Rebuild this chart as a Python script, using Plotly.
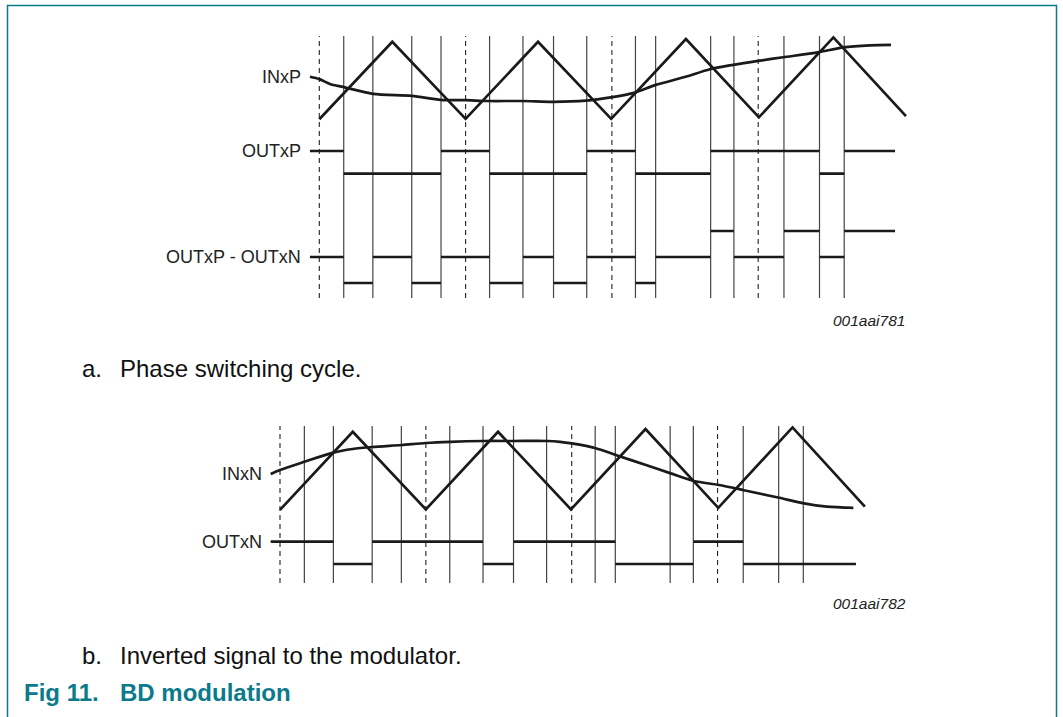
import plotly.graph_objects as go

W, H = 1063, 717          # browser window / figure size

# ---------------- data (time in carrier periods) ----------------
# switching instants (solid vertical lines), shared by both panels
switch_t = [0.167, 0.366, 0.632, 0.832, 1.164, 1.392, 1.601, 1.828,
            2.161, 2.299, 2.675, 2.834, 3.176, 3.419, 3.588]
# carrier period boundaries (dashed vertical lines)
period_t = [0, 1, 2, 3]

# triangular carrier
tri_t = [0, 0.499, 1.0, 1.495, 1.995, 2.506, 3.005, 3.514, 4.01]
tri_v = [-1.02, 0.93, -1.01, 0.93, -1.01, 1.0, -0.97, 1.04, -0.94]

# INxP input signal
inp_t = [-0.064, 0, 0.073, 0.167, 0.367, 0.632, 0.830, 0.996, 1.162, 1.390,
         1.599, 1.822, 1.992, 2.157, 2.296, 2.504, 2.670, 2.829, 3.0, 3.171,
         3.415, 3.582, 3.764, 3.908]
inp_v = [0.05, -0.01, -0.13, -0.21, -0.38, -0.43, -0.53, -0.54, -0.56, -0.56,
         -0.58, -0.55, -0.47, -0.35, -0.16, 0.05, 0.24, 0.35, 0.45, 0.54,
         0.67, 0.79, 0.84, 0.85]

# OUTxP logic output
outp_edges = [-0.064, 0.167, 0.832, 1.164, 1.828, 2.161, 2.675, 3.419, 3.588, 3.935]
outp_lvl = [1, 0, 1, 0, 1, 0, 1, 0, 1]

# OUTxP - OUTxN differential output
diff_edges = [-0.064, 0.167, 0.366, 0.632, 0.832, 1.164, 1.392, 1.601, 1.828,
              2.161, 2.299, 2.675, 2.834, 3.176, 3.419, 3.588, 3.935]
diff_lvl = [0, -1, 0, -1, 0, -1, 0, -1, 0, -1, 0, 1, 0, 1, 0, 1]

# INxN inverted input
inn_t = [-0.064, 0, 0.167, 0.365, 0.498, 0.633, 0.834, 0.999, 1.166, 1.394,
         1.604, 1.833, 1.92, 2.0, 2.165, 2.302, 2.509, 2.679, 2.838, 3.01,
         3.181, 3.423, 3.593, 3.749, 3.931]
inn_v = [-0.125, -0.025, 0.18, 0.41, 0.5, 0.55, 0.6, 0.65, 0.68, 0.7,
         0.7, 0.7, 0.68, 0.64, 0.52, 0.35, 0.1, -0.11, -0.3, -0.4,
         -0.53, -0.72, -0.86, -0.94, -0.97]

# OUTxN logic output
outn_edges = [-0.064, 0.366, 0.632, 1.392, 1.601, 2.299, 2.834, 3.176, 3.949]
outn_lvl = [1, 0, 1, 0, 1, 0, 1, 0]

labels_top = ["INxP", "OUTxP", "OUTxP - OUTxN"]
labels_bot = ["INxN", "OUTxN"]
codes = ["001aai781", "001aai782"]
captions = [("a.", "Phase switching cycle."), ("b.", "Inverted signal to the modulator.")]
fig_no, fig_title = "Fig 11.", "BD modulation"

# ---------------- helpers ----------------
def steps(edges, lvls):
    xs, ys = [], []
    for i, lv in enumerate(lvls):
        xs += [edges[i], edges[i + 1], None]
        ys += [lv, lv, None]
    return xs, ys

def py(px):  # pixel row -> paper fraction
    return 1 - px / H

def pxx(px):  # pixel column -> paper fraction
    return px / W

def lane(v0, p0, v1, p1, lo, hi):
    k = (p1 - p0) / (v1 - v0)
    plo, phi = p0 + (lo - v0) * k, p0 + (hi - v0) * k
    return dict(domain=[py(plo), py(phi)], range=[lo, hi])

INK = "#1a1a1a"
TEAL = "#0b7a8c"
LW = 2.7
FONT = "Liberation Sans, Arial, sans-serif"

fig = go.Figure()

def add_line(x, y, xa, ya, spline=False):
    ln = dict(color=INK, width=LW)
    if spline:
        ln.update(shape="spline", smoothing=0.8)
    fig.add_trace(go.Scatter(x=x, y=y, mode="lines", line=ln, xaxis=xa, yaxis=ya,
                             hoverinfo="skip"))

# top panel traces
add_line(tri_t, tri_v, "x", "y")
add_line(inp_t, inp_v, "x", "y", spline=True)
add_line(*steps(outp_edges, outp_lvl), "x", "y2")
add_line(*steps(diff_edges, diff_lvl), "x", "y3")
# bottom panel traces
add_line(tri_t, tri_v, "x2", "y4")
add_line(inn_t, inn_v, "x2", "y4", spline=True)
add_line(*steps(outn_edges, outn_lvl), "x2", "y5")

shapes = []
for xr, y0, y1 in (("x", py(298), py(36)), ("x2", py(583), py(426))):
    for t in switch_t:
        shapes.append(dict(type="line", xref=xr, yref="paper", x0=t, x1=t, y0=y0, y1=y1,
                           line=dict(color="#444444", width=1.2), layer="below"))
    for t in period_t:
        shapes.append(dict(type="line", xref=xr, yref="paper", x0=t, x1=t, y0=y0, y1=y1,
                           line=dict(color="#222222", width=1.1, dash="5px,4px"), layer="below"))
# page frame
shapes.append(dict(type="path", xref="paper", yref="paper",
                   path=f"M {pxx(7.5)},{py(740)} L {pxx(7.5)},{py(5.5)} "
                        f"L {pxx(1056.5)},{py(5.5)} L {pxx(1056.5)},{py(740)}",
                   line=dict(color=TEAL, width=1.5)))

ann = []
lab_font = dict(family=FONT, size=18, color="#222222")
for txt, x, y, xr, yr in ((labels_top[0], inp_t[0], inp_v[0], "x", "y"),
                          (labels_top[1], outp_edges[0], outp_lvl[0], "x", "y2"),
                          (labels_top[2], diff_edges[0], diff_lvl[0], "x", "y3"),
                          (labels_bot[0], inn_t[0], inn_v[0], "x2", "y4"),
                          (labels_bot[1], outn_edges[0], outn_lvl[0], "x2", "y5")):
    ann.append(dict(text=txt, x=x, y=y, xref=xr, yref=yr, xanchor="right", yanchor="middle",
                    xshift=-7, showarrow=False, font=lab_font))

code_font = dict(family=FONT, size=15.5, color="#222222")
ann.append(dict(text=f"<i>{codes[0]}</i>", x=pxx(907), y=py(320), xref="paper", yref="paper",
                xanchor="right", yanchor="middle", showarrow=False, font=code_font))
ann.append(dict(text=f"<i>{codes[1]}</i>", x=pxx(908), y=py(603), xref="paper", yref="paper",
                xanchor="right", yanchor="middle", showarrow=False, font=code_font))

cap_font = dict(family=FONT, size=24, color="#111111")
for (lt, txt), yc in zip(captions, (369, 655)):
    ann.append(dict(text=lt, x=pxx(80), y=py(yc), xref="paper", yref="paper",
                    xanchor="left", yanchor="middle", showarrow=False, font=cap_font))
    ann.append(dict(text=txt, x=pxx(118), y=py(yc), xref="paper", yref="paper",
                    xanchor="left", yanchor="middle", showarrow=False, font=cap_font))
fig_font = dict(family=FONT, size=24, color=TEAL)
ann.append(dict(text=f"<b>{fig_no}</b>", x=pxx(22), y=py(692), xref="paper", yref="paper",
                xanchor="left", yanchor="middle", showarrow=False, font=fig_font))
ann.append(dict(text=f"<b>{fig_title}</b>", x=pxx(118), y=py(692), xref="paper", yref="paper",
                xanchor="left", yanchor="middle", showarrow=False, font=fig_font))

hid = dict(visible=False, showgrid=False, zeroline=False, fixedrange=True)
p1, x1 = 146.3, 319.3
p2, x2 = 145.85, 280.0
fig.update_layout(
    width=W, height=H, margin=dict(l=0, r=0, t=0, b=0),
    paper_bgcolor="white", plot_bgcolor="white", showlegend=False,
    xaxis=dict(hid, domain=[0, 1], range=[-x1 / p1, (W - x1) / p1]),
    xaxis2=dict(hid, domain=[0, 1], range=[-x2 / p2, (W - x2) / p2]),
    yaxis=dict(hid, anchor="x", **lane(-1, 118.5, 1, 39, -1.3, 1.3)),
    yaxis2=dict(hid, anchor="x", **lane(0, 173.7, 1, 151, -0.4, 1.4)),
    yaxis3=dict(hid, anchor="x", **lane(-1, 283, 1, 231, -1.4, 1.4)),
    yaxis4=dict(hid, anchor="x2", **lane(-1, 509, 1, 429, -1.3, 1.3)),
    yaxis5=dict(hid, anchor="x2", **lane(0, 564, 1, 541.7, -0.4, 1.4)),
    shapes=shapes, annotations=ann,
)
fig.write_html("out.html", config={"displayModeBar": False},
               post_script="document.body.style.margin='0';document.body.style.overflow='hidden';")
